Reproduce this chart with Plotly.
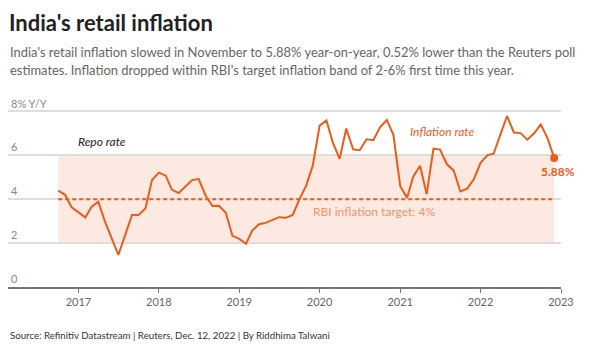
import pandas as pd
import plotly.graph_objects as go

# ---- data ----
months = pd.period_range("2016-09", "2022-11", freq="M").astype(str).tolist()
inflation = [
    4.39, 4.20, 3.63, 3.41,
    3.17, 3.65, 3.89, 2.99, 2.18, 1.46, 2.36, 3.28, 3.28, 3.58, 4.88, 5.21,
    5.07, 4.44, 4.28, 4.58, 4.87, 4.92, 4.17, 3.69, 3.70, 3.38, 2.33, 2.19,
    1.97, 2.57, 2.86, 2.92, 3.05, 3.18, 3.15, 3.28, 3.99, 4.62, 5.54, 7.35,
    7.59, 6.58, 5.84, 7.22, 6.27, 6.23, 6.73, 6.69, 7.27, 7.61, 6.93, 4.59,
    4.06, 5.03, 5.52, 4.23, 6.30, 6.26, 5.59, 5.30, 4.35, 4.48, 4.91, 5.66,
    6.01, 6.07, 6.95, 7.79, 7.04, 7.01, 6.71, 7.00, 7.41, 6.77, 5.88,
]
band_low, band_high, target = 2, 6, 4
y_ticks = [0, 2, 4, 6, 8]
y_ticktext = ["0", "2", "4", "6", "8% Y/Y"]
x_ticks = ["2017-01-01", "2018-01-01", "2019-01-01", "2020-01-01",
           "2021-01-01", "2022-01-01", "2023-01-01"]
x_ticktext = ["2017", "2018", "2019", "2020", "2021", "2022", "2023"]

# month values are plotted at month end
dates = (pd.to_datetime(months) + pd.offsets.MonthBegin(1)).strftime("%Y-%m-%d").tolist()

ORANGE = "#ea5d1a"
FONT = "Lato"

# page body has an 8px margin, so the figure is 8px smaller than the window
OFF = 8
W, H = 607 - OFF, 355 - OFF
L, R, T, B = 0, 46, 99, 68
pw, ph = W - L - R, H - T - B


def px(xr):  # reference-window pixel -> paper fraction
    return (xr - OFF - L) / pw


def py(yr):
    return (H - B - (yr - OFF)) / ph


fig = go.Figure()
fig.add_trace(go.Scatter(x=dates, y=inflation, mode="lines",
                         line=dict(color=ORANGE, width=2), hoverinfo="skip",
                         showlegend=False))
fig.add_trace(go.Scatter(x=[dates[-1]], y=[inflation[-1]], mode="markers",
                         marker=dict(color=ORANGE, size=8), showlegend=False,
                         hoverinfo="skip"))

fig.add_shape(type="rect", xref="x", yref="y", x0=dates[0], x1=dates[-1],
              y0=band_low, y1=band_high, fillcolor="#fce9e1", line_width=0,
              layer="below")
fig.add_shape(type="line", xref="x", yref="y", x0=dates[0], x1=dates[-1],
              y0=target, y1=target, line=dict(color=ORANGE, width=2, dash="4px,3px"))

ann = []
ann.append(dict(text="<b>India's retail inflation</b>", x=px(8), y=py(OFF),
                yanchor="top", borderpad=0,
                font=dict(size=22, color="#222", family=FONT)))
ann.append(dict(text="India's retail inflation slowed in November to 5.88% year-on-year, 0.52% lower than the Reuters poll",
                x=px(8), y=py(52), font=dict(size=12.95, color="#666", family=FONT)))
ann.append(dict(text="estimates. Inflation dropped within RBI's target inflation band of 2-6% first time this year.",
                x=px(8), y=py(70), font=dict(size=12.95, color="#666", family=FONT)))
ann.append(dict(text="Source: Refinitiv Datastream | Reuters, Dec. 12, 2022 | By Riddhima Talwani",
                x=px(8), y=py(335), font=dict(size=9.7, color="#333", family=FONT)))
ann.append(dict(text="<i>Repo rate</i>", x=px(76), y=py(141),
                font=dict(size=12, color="#222", family=FONT)))
ann.append(dict(text="<i>Inflation rate</i>", x=px(408), y=py(131),
                font=dict(size=12, color=ORANGE, family=FONT)))
ann.append(dict(text="RBI inflation target: 4%", x=px(311), y=py(211),
                font=dict(size=12, color="#f0956a", family=FONT)))
ann.append(dict(text="<b>5.88%</b>", x=px(539), y=py(171),
                font=dict(size=12, color=ORANGE, family=FONT)))
for a in ann:
    a.setdefault("yanchor", "middle")
    a.update(xref="paper", yref="paper", xanchor="left", showarrow=False)

fig.update_layout(
    width=W, height=H, margin=dict(l=L, r=R, t=T, b=B),
    paper_bgcolor="white", plot_bgcolor="white",
    annotations=ann, showlegend=False,
    font=dict(family=FONT),
)
fig.update_xaxes(range=["2016-02-16", "2023-01-01"], tickvals=x_ticks,
                 ticktext=x_ticktext, showgrid=False, ticks="outside",
                 ticklen=4, tickcolor="#777", showline=True, linecolor="#777",
                 linewidth=1.5, tickfont=dict(size=11, color="#666", family=FONT),
                 zeroline=False, fixedrange=True, automargin=False)
fig.update_yaxes(range=[0, 8.2], tickvals=y_ticks, ticktext=y_ticktext,
                 ticklabelposition="inside top", ticklabeloverflow="allow",
                 showgrid=True, automargin=False,
                 gridcolor="#dddddd", gridwidth=1.5, zeroline=False,
                 showline=False, ticks="",
                 tickfont=dict(size=11, color="#888", family=FONT),
                 fixedrange=True)

fig.write_html("out.html")
